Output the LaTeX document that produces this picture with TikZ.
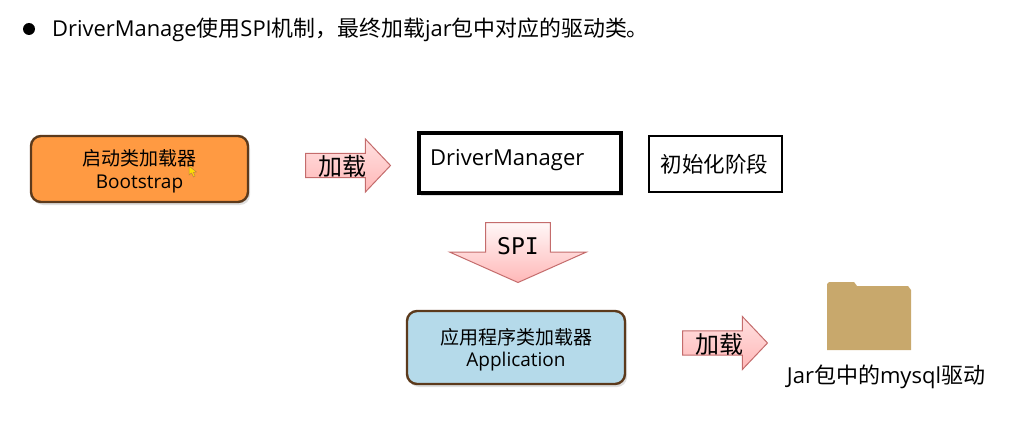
\documentclass[tikz,border=0pt]{standalone}
\usepackage{fontspec}
\setmainfont{Open Sans}
\newfontfamily\cjkfont{Noto Sans CJK SC}
\newfontfamily\spifont{DejaVu Sans Mono}
\usetikzlibrary{shapes.arrows,shadows}
\newcommand{\zh}[1]{{\cjkfont #1}}
\newcommand{\lift}{\rule{0pt}{21pt}}
\definecolor{bootfill}{HTML}{FF9A42}
\definecolor{appfill}{HTML}{B5DAEA}
\definecolor{rimbrown}{HTML}{5C3A1C}
\definecolor{arrowrim}{HTML}{C46C6C}
\definecolor{folderfill}{HTML}{C8A86C}

\begin{document}
\begin{tikzpicture}[
  x=1pt, y=-1pt,
  font=\fontsize{19}{22.5}\selectfont,
  softshadow/.style = {drop shadow={shadow xshift=2pt, shadow yshift=-3pt, opacity=.25}},
  loader/.style = {draw=rimbrown, line width=2.4pt, rounded corners=10pt, align=center, softshadow},
  plainbx/.style = {draw, fill=white, minimum height=56pt, minimum width=133pt,
                    font=\fontsize{21.5}{26}\selectfont},
  blockar/.style = {single arrow, draw=arrowrim, line width=1pt, anchor=west,
                    top color=#1, bottom color=red!28,
                    minimum width=53pt, minimum height=85pt, inner sep=0.5pt,
                    single arrow head extend=14pt, single arrow head indent=0pt,
                    single arrow tip angle=93,
                    font=\fontsize{24}{26}\selectfont, text height=21pt, text depth=1pt},
  blockar/.default = {red!12},
]
\useasboundingbox (0,0) rectangle (1026,433);

% ---------- heading line ---------------------------------------------
\fill (29,29) circle (6pt);
\node[anchor=base west, inner sep=0pt, font=\fontsize{21.9}{26}\selectfont] (heading) at (52,37)
  {DriverManage\zh{使用}SPI\zh{机制，最终加载}jar\zh{包中对应的驱动类。}};

% ---------- loaders --------------------------------------------------
\node[loader, fill=bootfill, minimum width=217pt, minimum height=66pt] (boot) at (139.5,169)
  {\lift\zh{启动类加载器}\\Bootstrap};
\node[loader, fill=appfill, minimum width=218pt, minimum height=73pt] (app) at (516,347.5)
  {\lift\zh{应用程序类加载器}\\Application};

% mouse pointer resting on the first loader
\filldraw[fill=yellow!80!orange, draw=brown, line width=.5pt]
  (189,166) -- (189,175) -- (191.5,173) -- (193.5,177) -- (195,176) -- (193.5,172.5) -- (196.5,172) -- cycle;

% ---------- driver manager row ---------------------------------------
\node[draw, line width=3.5pt, minimum width=202pt, minimum height=60pt, fill=white, softshadow] (dm) at (520,163) {};
\node[anchor=west, inner sep=0pt, font=\fontsize{22}{26}\selectfont] (dmtxt) at (430,160) {DriverManager};
\node[plainbx, line width=1.3pt] (phase) at (715.5,164) {\hspace{-2pt}\zh{初始化阶段}};

% ---------- block arrows ---------------------------------------------
\node[blockar] (load1) at (305,165.5) {\zh{加载}};
\node[blockar] (load2) at (682,343) {\zh{加载}};
\node[blockar={red!3}, shape border rotate=270, anchor=north, minimum width=136pt, minimum height=60pt,
      single arrow tip angle=132, single arrow head extend=23.5pt, inner sep=0pt,
      font=\fontsize{23}{26}\spifont, text height=16pt, text depth=1pt] (spi) at (518,222)
  {\smash{\raisebox{-1.5pt}{SPI}}};

% ---------- jar folder -----------------------------------------------
\fill[folderfill] (827,350) -- (827,284) -- (829,282) -- (854,282) -- (857,286)
  -- (908,286) -- (911,290) -- (911,350) -- cycle;
\node[font=\fontsize{22}{26}\selectfont, inner sep=0pt] (jar) at (886,377) {Jar\zh{包中的}mysql\zh{驱动}};

\end{tikzpicture}
\end{document}
